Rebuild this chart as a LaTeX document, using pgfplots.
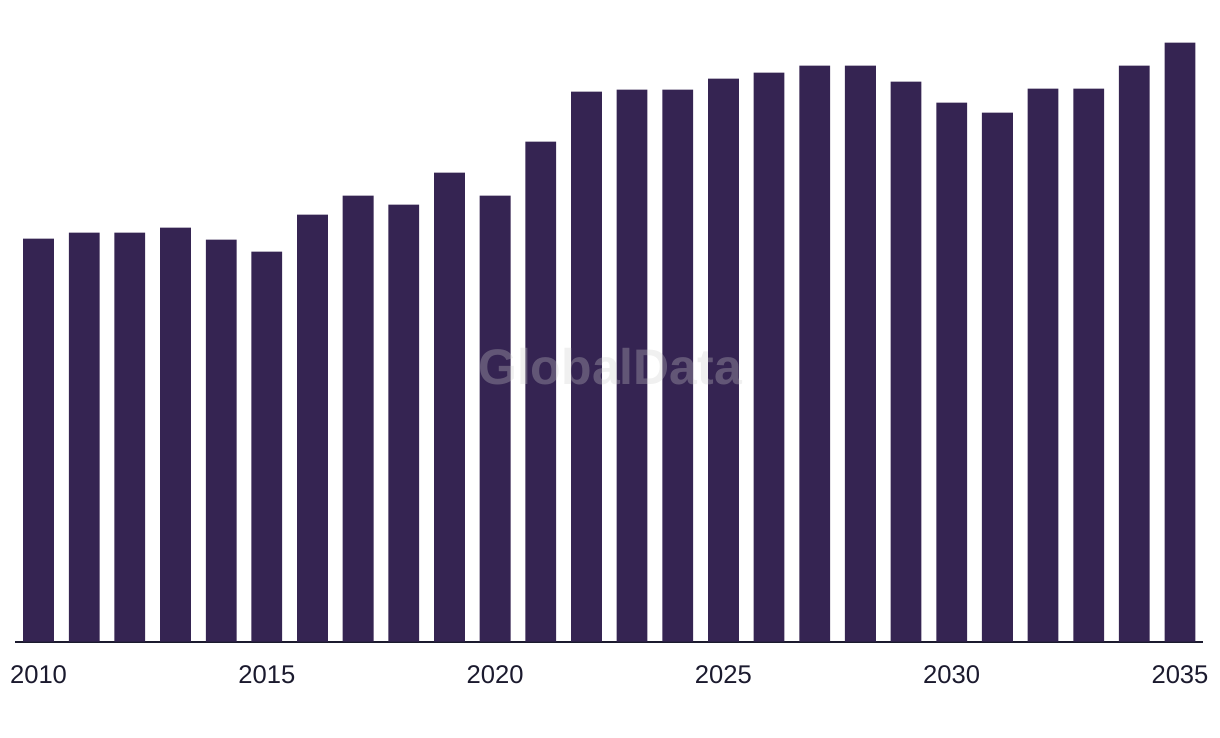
\documentclass[border=0pt]{standalone}
\usepackage{fontspec}
\setmainfont{Liberation Sans}
\usepackage{pgfplots}
\pgfplotsset{compat=1.18}
\definecolor{barc}{RGB}{53,36,82}
\definecolor{axc}{RGB}{27,26,46}
\begin{document}
\begin{tikzpicture}
\useasboundingbox (0,0) rectangle (610pt,369pt);
\begin{axis}[
  at={(7.5pt,48.15pt)}, anchor=origin,
  scale only axis, width=594pt, height=320.85pt,
  xmin=2009.485, xmax=2035.504, ymin=0, ymax=641.7,
  axis x line*=bottom, axis y line=none,
  x axis line style={axc, line width=1pt},
  xtick={2010,2015,2020,2025,2030,2035},
  xticklabels={2010,2015,2020,2025,2030,2035},
  major tick length=0pt,
  xticklabel style={anchor=base, yshift=-20.8pt, text=axc, font=\fontsize{12.8}{14}\selectfont},
  clip=false,
]
\addplot[ybar, fill=barc, draw=none, bar width=15.4pt] coordinates {
(2010,403) (2011,409) (2012,409) (2013,414) (2014,402) (2015,390)
(2016,427) (2017,446) (2018,437) (2019,469) (2020,446) (2021,500)
(2022,550) (2023,552) (2024,552) (2025,563) (2026,569) (2027,576)
(2028,576) (2029,560) (2030,539) (2031,529) (2032,553) (2033,553)
(2034,576) (2035,599)
};
\node[text=gray!40, opacity=0.3, font=\bfseries\fontsize{25}{28}\selectfont] at (axis cs:2022.52,274.7) {GlobalData};
\end{axis}
\end{tikzpicture}
\end{document}
